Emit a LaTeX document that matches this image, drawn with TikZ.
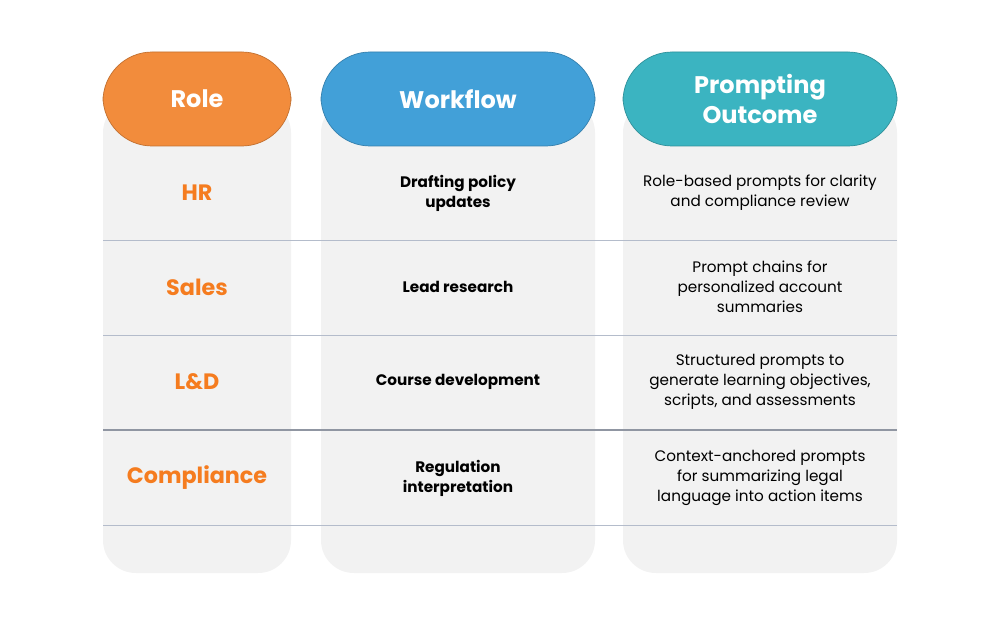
\documentclass[tikz,border=0pt]{standalone}
\usepackage{fontspec}
\setmainfont{Poppins}
\definecolor{hdrorange}{HTML}{F28C3C}
\definecolor{hdrblue}{HTML}{42A0D8}
\definecolor{hdrteal}{HTML}{3BB4C1}
\definecolor{roleorange}{HTML}{F57C1F}
\definecolor{colgrey}{HTML}{F2F2F2}
\definecolor{rulegrey}{HTML}{B4BCCB}
\tikzset{
  header/.style={draw=#1!80!black, line width=0.6pt, fill=#1, rounded corners=42pt, text=white, font=\fontsize{20.5}{25.5}\selectfont\bfseries, align=center},
  role/.style={text=roleorange, font=\fontsize{19}{22}\selectfont\bfseries},
  cell/.style={font=\fontsize{13}{17}\selectfont, align=center},
  cellb/.style={font=\fontsize{13}{17}\selectfont\bfseries, align=center},
}
\begin{document}
\begin{tikzpicture}[x=0.03cm, y=-0.03cm]
\useasboundingbox (0,0) rectangle (1000,625);

% column backgrounds
\fill[colgrey, rounded corners=28pt] (103,100) rectangle (291,573);
\fill[colgrey, rounded corners=28pt] (321,100) rectangle (595,573);
\fill[colgrey, rounded corners=28pt] (623,100) rectangle (897,573);

% row separators
\foreach \y in {240,335,525}
  \draw[rulegrey, line width=0.8pt] (103,\y) -- (897,\y);
\draw[rulegrey!80!black, line width=1.1pt] (103,430) -- (897,430);

% headers
\draw[header=hdrorange] (103,52) rectangle (291,146);
\node[header=hdrorange, draw=none, fill=none] (hrole) at (197,99) {Role};
\draw[header=hdrblue] (321,52) rectangle (595,146);
\node[header=hdrblue, draw=none, fill=none] (hflow) at (458,99) {Workflow};
\draw[header=hdrteal] (623,52) rectangle (897,146);
\node[header=hdrteal, draw=none, fill=none] (hout) at (760,99) {Prompting\\Outcome};

% rows
\node[role] (hr) at (197,193) {HR};
\node[cellb] (hrflow) at (458,193) {Drafting policy\\updates};
\node[cell] (hrout) at (760,193) {Role-based prompts for clarity\\and compliance review};

\node[role] (sales) at (197,287) {Sales};
\node[cellb] (salesflow) at (458,287) {Lead research};
\node[cell] (salesout) at (760,287) {Prompt chains for\\personalized account\\summaries};

\node[role] (ld) at (197,382) {L\&D};
\node[cellb] (ldflow) at (458,382) {Course development};
\node[cell] (ldout) at (760,382) {Structured prompts to\\generate learning objectives,\\scripts, and assessments};

\node[role] (comp) at (197,478) {Compliance};
\node[cellb] (compflow) at (458,478) {Regulation\\interpretation};
\node[cell] (compout) at (760,478) {Context-anchored prompts\\for summarizing legal\\language into action items};

\end{tikzpicture}
\end{document}
